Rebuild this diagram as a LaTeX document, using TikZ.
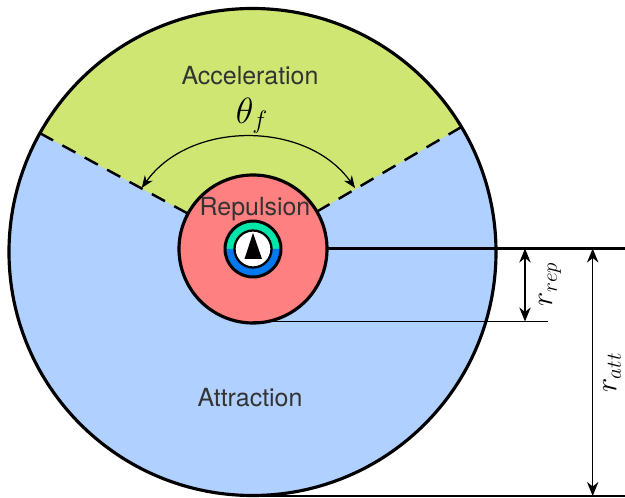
\documentclass[tikz,border=0pt]{standalone}
\usepackage{fontspec}
\setmainfont{TeX Gyre Heros}
\usetikzlibrary{arrows.meta, calc}

\begin{document}
\begin{tikzpicture}[
    x=0.02cm, y=0.02cm,
    >={Stealth[length=8pt, width=6.5pt]},
    zonelabel/.style={font=\fontsize{14.2}{16}\selectfont, text=black!80},
    dimlabel/.style={font=\fontsize{18}{21}\selectfont, rotate=90, inner sep=1pt},
    dimline/.style={line width=0.75pt, <->}
]
    % fix the canvas to the size of the reference
    \path[use as bounding box] (0, 0) rectangle (625, 497);

    % colours
    \definecolor{zoneatt}{HTML}{B0D0FF}
    \definecolor{zoneacc}{HTML}{D0E673}
    \definecolor{zonerep}{HTML}{FF8080}
    \definecolor{ringtop}{HTML}{00E6AA}
    \definecolor{ringbot}{HTML}{0078F0}

    % key points
    \coordinate (bigc) at (252.5, 245);
    \coordinate (self) at (253, 248);
    \coordinate (accL) at ($(bigc)+(150.8:243.5)$);
    \coordinate (accR) at ($(bigc)+(30.9:243.5)$);

    % 1. attraction zone with the acceleration sector on top
    \fill[zoneatt] (bigc) circle (243.5);
    \fill[zoneacc] (self) -- (accL) arc (150.8:30.9:243.5) -- cycle;
    \draw[line width=1.4pt, dash pattern=on 8.5pt off 6pt] (accL) -- (self);
    \draw[line width=1.4pt, dash pattern=on 8.5pt off 6pt] (accR) -- (self);
    \draw[line width=1.8pt] (bigc) circle (243.5);

    % 2. repulsion zone
    \filldraw[fill=zonerep, line width=1.8pt] (self) circle (74);

    % 3. ring and marker
    \fill[ringtop] (253, 248) ++(180:28) arc (180:0:28) -- cycle;
    \fill[ringbot] (253, 248) ++(180:28) arc (180:360:28) -- cycle;
    \draw[line width=1.7pt] (self) circle (28);
    \filldraw[fill=white, line width=1.3pt] (self) circle (18.5);
    \fill[black] (253, 264) -- (262, 238) -- (244.5, 238) -- cycle;

    % 4. zone labels
    \node[zonelabel] (accText) at (250, 421) {Acceleration};
    \node[zonelabel] (repText) at (255, 288) {Repulsion};
    \node[zonelabel] (attText) at (250, 99) {Attraction};

    % 5. field of view
    \coordinate (thL) at (141.7, 309);
    \coordinate (thR) at (355, 309);
    \draw[line width=0.7pt, <->, >={Stealth[length=7pt, width=5.5pt]}] (thL) to[bend left=54.6] (thR);
    \node[font=\fontsize{20}{22}\selectfont] (thetaText) at (252, 381) {$\theta_f$};

    % 6. radius markers
    \coordinate (repTop) at (525, 248.5);
    \coordinate (repBot) at (525, 175.5);
    \coordinate (attTop) at (592.7, 248.5);
    \coordinate (attBot) at (592.7, 1);
    \draw[line width=1.2pt] (327, 248.5) -- (625, 248.5);
    \draw[line width=1pt] (253, 175.5) -- (548, 175.5);
    \draw[line width=0.6pt] (253, 1) -- (625, 1);
    \draw[dimline] (repTop) -- (repBot);
    \draw[dimline] (attTop) -- (attBot);
    \node[dimlabel] (repLabel) at (550, 213) {$r_{rep}$};
    \node[dimlabel] (attLabel) at (612, 124.5) {$r_{att}$};
\end{tikzpicture}
\end{document}
